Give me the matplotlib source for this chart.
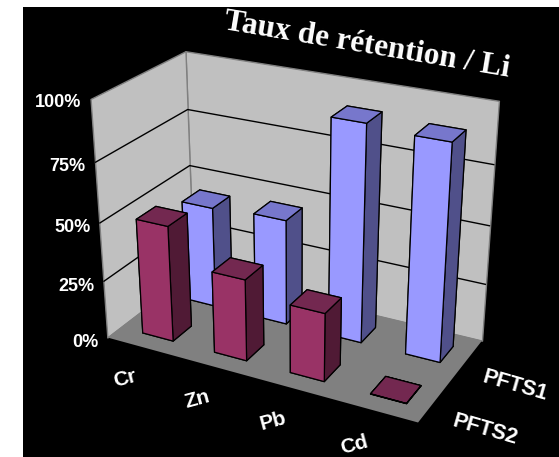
import matplotlib
matplotlib.use('Agg')
import matplotlib.pyplot as plt
from matplotlib.patches import Rectangle
import numpy as np
from mpl_toolkits.mplot3d.art3d import Poly3DCollection, Line3DCollection
from mpl_toolkits.mplot3d import proj3d

metals = ['Cr', 'Zn', 'Pb', 'Cd']
series = ['PFTS2', 'PFTS1']
pfts2 = [50, 35, 29, 0.1]
pfts1 = [44.5, 46, 92, 90.5]
pct_ticks = [0, 25, 50, 75, 100]
pct_labels = ['0%', '25%', '50%', '75%', '100%']

W, H = 559, 457
fig = plt.figure(figsize=(W / 100, H / 100), dpi=100, facecolor='white')
fig.add_artist(Rectangle((23 / W, 0), 1 - 23 / W, 1 - 7 / H, transform=fig.transFigure,
                         facecolor='black', edgecolor='none', zorder=-1))

# square axes that covers the whole figure, so the 3D box can be placed freely
ax = fig.add_axes([0, (H - W) / 2 / H, 1, W / H], projection='3d', facecolor='none')
ax.set_axis_off()
ax.computed_zorder = False
ax.patch.set_visible(False)
ax.apply_aspect()

nx = len(metals)
ny = len(series)

# camera: fit the Excel-like perspective on the box corners (data -> pixel)
box_xyz = np.array([(0, 0, 0), (0, 0, 100), (0, ny, 0), (0, ny, 100),
                    (nx, ny, 0), (nx, ny, 100), (nx, 0, 0)], float)
box_px = np.array([(107, 337), (91, 99), (194, 272), (185, 51),
                   (482, 340), (499, 101), (418, 423)], float)
box_2d = ax.transData.inverted().transform(np.c_[box_px[:, 0], H - box_px[:, 1]])
A = []
for (x, y, z), (u, v) in zip(box_xyz, box_2d):
    A.append([x, y, z, 1, 0, 0, 0, 0, -u * x, -u * y, -u * z, -u])
    A.append([0, 0, 0, 0, x, y, z, 1, -v * x, -v * y, -v * z, -v])
P = np.linalg.svd(np.array(A))[2][-1].reshape(3, 4)
if P[2, 3] < 0:
    P = -P
near = (P[2] @ np.array([nx, 0, 0, 1]))
M = np.array([P[0], P[1], P[2] - np.array([0, 0, 0, 0.5 * near]), P[2]])
ax.get_proj = lambda: M


def label(x, y, z, s, **kw):
    # Text3D ignores rotation, so place the label in 2D at the projected spot
    u, v, _ = proj3d.proj_transform(x, y, z, M)
    ax.text2D(u, v, s, transform=ax.transData, color='white', fontweight='bold',
              family='Liberation Sans', ha=kw.pop('ha', 'center'), va='center',
              rotation_mode='anchor', zorder=30, **kw)


# walls and floor
wall = '#c0c0c0'
floor = '#808080'
ax.add_collection3d(Poly3DCollection([[(0, ny, 0), (nx, ny, 0), (nx, ny, 100), (0, ny, 100)]],
                                     facecolor=wall, edgecolor='#808080', linewidth=1, zorder=1))
ax.add_collection3d(Poly3DCollection([[(0, 0, 0), (0, ny, 0), (0, ny, 100), (0, 0, 100)]],
                                     facecolor=wall, edgecolor='#808080', linewidth=1, zorder=1))
ax.add_collection3d(Poly3DCollection([[(0, 0, 0), (nx, 0, 0), (nx, ny, 0), (0, ny, 0)]],
                                     facecolor=floor, edgecolor='none', zorder=2))

# gridlines
grid = [[(0, 0, p), (0, ny, p), (nx, ny, p)] for p in pct_ticks[1:-1]]
ax.add_collection3d(Line3DCollection(grid, colors='black', linewidths=1, zorder=3))

# bars, back row first. bar3d face order: bottom, top, front, back, left, right
blue = ['#9999ff', '#7777cc', '#9999ff', '#9999ff', '#50508a', '#50508a']
red = ['#993366', '#732850', '#993366', '#993366', '#501a35', '#501a35']
bar_w = 0.43
bar_d = 0.42
zo = 4
for row, vals, cols in [(1, pfts1, blue), (0, pfts2, red)]:
    for i in range(nx):
        ax.bar3d(i + 0.53 - bar_w / 2, row + 0.5 - bar_d / 2, 0, bar_w, bar_d, vals[i],
                 color=cols, edgecolor='black', linewidth=0.9, shade=False, zorder=zo)
        zo += 1

# labels
for p, lab in zip(pct_ticks, pct_labels):
    label(-0.02, -0.15, p, lab, ha='right', fontsize=13)
for i, m in enumerate(metals):
    label(i * 0.95 + 0.72, -0.7, 0, m, fontsize=15, rotation=15)
for j, s in enumerate(series):
    label(nx + 0.68, j + 0.2, 0, s, fontsize=15.5, rotation=-16)

fig.text(367 / W, 1 - 45 / H, 'Taux de rétention / Li', color='white', fontweight='bold',
         fontsize=22.5, family='Liberation Serif', rotation=-9.5, ha='center', va='center',
         rotation_mode='anchor')

fig.savefig('out.png', dpi=100, facecolor='white')
